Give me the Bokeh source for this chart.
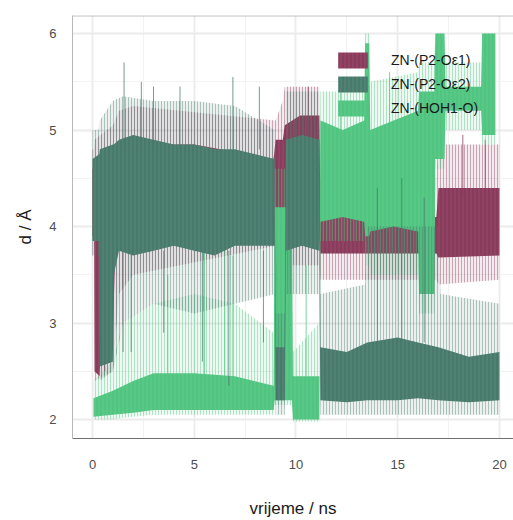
from bokeh.plotting import figure
from bokeh.models import Range1d, SingleIntervalTicker, Legend, LegendItem, Span
from bokeh.embed import file_html
from bokeh.resources import INLINE

# ---------------- data ----------------
series_labels = ["ZN-(P2-Oε1)", "ZN-(P2-Oε2)", "ZN-(HOH1-O)"]
series_colors = ["#8a3a5b", "#487a6b", "#50c580"]

# ZN-(P2-Oe1): dense band (core) and spike envelope (env)
e1_core_t = [0.0, 0.08, 0.1, 0.35, 0.4, 1.0, 1.1, 1.3, 5.0, 8.9, 9.0, 9.35, 9.45, 10.2, 11.15, 11.2, 13.5, 16.9, 17.0, 20.0]
e1_core_lo = [3.9, 3.9, 2.5, 2.45, 2.7, 2.9, 3.6, 3.8, 3.8, 3.85, 4.0, 4.0, 3.85, 3.85, 3.85, 3.72, 3.72, 3.72, 3.68, 3.7]
e1_core_hi = [4.6, 4.6, 4.6, 4.6, 4.7, 4.8, 4.8, 4.85, 4.85, 4.7, 4.9, 4.9, 5.05, 5.15, 5.15, 4.15, 4.12, 4.1, 4.4, 4.4]
e1_env_t = [0.0, 0.08, 0.1, 1.0, 1.3, 2.0, 9.0, 9.35, 9.45, 11.15, 11.2, 16.9, 17.0, 20.0]
e1_env_lo = [3.7, 3.7, 2.4, 2.5, 3.3, 3.5, 3.8, 3.8, 3.6, 3.6, 3.45, 3.45, 3.4, 3.45]
e1_env_hi = [4.8, 4.8, 4.9, 5.05, 5.2, 5.25, 5.1, 5.3, 5.45, 5.45, 4.5, 4.5, 4.85, 4.85]
e1_spk_t = [1.5, 0.6, 10.6, 18.2, 19.3]
e1_spk_lo = [2.7, 2.5, 4.9, 4.3, 4.3]
e1_spk_hi = [3.8, 3.0, 5.45, 4.95, 4.9]

# ZN-(P2-Oe2)
e2_core_t = [0.0, 0.33, 0.36, 1.0, 1.05, 1.3, 2.0, 3.0, 4.0, 5.0, 6.0, 7.0, 8.0, 8.95, 9.0, 9.45, 9.5, 10.3, 11.15, 11.2, 12.5, 13.5, 15.0, 16.0, 17.0, 18.5, 20.0]
e2_core_lo = [3.85, 3.85, 2.55, 2.6, 3.5, 3.75, 3.7, 3.75, 3.8, 3.75, 3.7, 3.8, 3.8, 3.8, 2.2, 2.2, 3.75, 3.8, 3.75, 2.2, 2.18, 2.2, 2.2, 2.22, 2.2, 2.18, 2.2]
e2_core_hi = [4.7, 4.75, 4.8, 4.85, 4.85, 4.9, 4.95, 4.9, 4.85, 4.85, 4.8, 4.8, 4.75, 4.7, 2.75, 2.75, 4.9, 4.95, 4.9, 2.75, 2.7, 2.8, 2.85, 2.8, 2.75, 2.65, 2.7]
e2_env_t = [0.0, 0.3, 0.35, 1.0, 1.5, 3.0, 5.0, 7.0, 8.95, 9.0, 9.45, 9.5, 11.15, 11.2, 13.4, 13.5, 17.0, 17.1, 20.0]
e2_env_lo = [3.7, 3.7, 2.4, 2.5, 3.0, 3.2, 3.1, 3.2, 3.3, 2.05, 2.05, 3.3, 3.3, 2.05, 2.05, 2.05, 2.05, 2.05, 2.05]
e2_env_hi = [5.0, 5.0, 5.1, 5.3, 5.35, 5.3, 5.3, 5.25, 5.0, 3.1, 3.1, 5.4, 5.4, 3.3, 3.4, 4.0, 4.0, 3.3, 3.2]
e2_spk_t = [1.55, 2.4, 3.0, 4.3, 6.9, 8.2, 1.9, 3.5, 5.4, 6.7, 8.4, 14.0, 15.2, 16.3]
e2_spk_lo = [4.8, 4.8, 4.8, 4.8, 4.8, 4.8, 2.7, 2.9, 2.6, 2.35, 2.8, 2.8, 2.8, 2.8]
e2_spk_hi = [5.7, 5.5, 5.45, 5.45, 5.55, 5.45, 3.75, 3.75, 3.75, 3.75, 3.75, 4.4, 4.5, 4.3]

# ZN-(HOH1-O)
w_core_t = [0.05, 1.0, 2.0, 3.0, 5.0, 7.0, 8.9, 8.95, 9.8, 9.85, 11.15, 11.2, 12.3, 13.35, 13.4, 13.6, 13.65, 14.8, 16.0, 16.05, 16.8, 16.85, 17.3, 17.35, 19.1, 19.15, 19.8]
w_core_lo = [2.03, 2.05, 2.07, 2.1, 2.1, 2.1, 2.1, 2.2, 2.2, 2.0, 2.0, 4.05, 4.1, 4.05, 3.9, 3.9, 3.95, 4.0, 3.95, 3.3, 3.3, 4.7, 4.7, 5.2, 5.2, 4.95, 4.95]
w_core_hi = [2.22, 2.3, 2.4, 2.48, 2.48, 2.45, 2.35, 4.2, 4.2, 2.45, 2.45, 5.1, 5.0, 5.1, 5.9, 5.9, 5.0, 5.1, 5.2, 5.4, 5.4, 6.0, 6.0, 5.45, 5.45, 6.0, 6.0]
w_env_t = [0.05, 1.0, 1.5, 3.0, 5.0, 7.0, 8.9, 8.95, 9.8, 9.85, 11.15, 11.2, 13.35, 13.4, 13.6, 13.65, 16.0, 16.05, 16.8, 16.85, 17.3, 17.35, 19.1, 19.15, 19.8]
w_env_lo = [2.0, 2.0, 2.02, 2.05, 2.05, 2.05, 2.05, 2.15, 2.15, 1.98, 1.98, 3.85, 3.85, 3.6, 3.6, 3.5, 3.5, 3.1, 3.1, 4.6, 4.6, 5.0, 5.0, 4.85, 4.85]
w_env_hi = [2.4, 2.6, 3.0, 3.2, 3.3, 3.2, 2.9, 4.6, 4.6, 2.7, 3.0, 5.4, 5.4, 6.0, 6.0, 5.5, 5.6, 5.7, 5.7, 6.0, 6.0, 5.7, 5.7, 6.0, 6.0]
w_spk_t = [3.7, 5.5, 6.5, 6.9, 10.5, 12.2, 14.6]
w_spk_lo = [2.4, 2.4, 2.4, 2.4, 2.4, 5.0, 5.0]
w_spk_hi = [3.5, 3.8, 4.6, 3.7, 3.6, 5.5, 5.6]

x_ticks_interval = 5
y_ticks_interval = 1

# ---------------- figure ----------------
p = figure(width=513, height=520, output_backend="svg", toolbar_location=None,
           x_range=Range1d(-0.983, 20.69), y_range=Range1d(1.804, 6.187),
           min_border_left=72, min_border_top=15, min_border_right=0, min_border_bottom=82)
p.outline_line_color = None
p.background_fill_color = "white"

p.xaxis.ticker = SingleIntervalTicker(interval=x_ticks_interval, num_minor_ticks=2)
p.yaxis.ticker = SingleIntervalTicker(interval=y_ticks_interval, num_minor_ticks=2)
p.xgrid.ticker = p.xaxis.ticker
p.ygrid.ticker = p.yaxis.ticker
for g in (p.xgrid, p.ygrid):
    g.grid_line_color = "#ebebeb"
    g.grid_line_width = 1.8
    g.minor_grid_line_color = "#f2f2f2"
    g.minor_grid_line_width = 1.0

for ax in (p.xaxis, p.yaxis):
    ax.major_tick_line_color = None
    ax.minor_tick_line_color = None
    ax.major_label_text_font = "Liberation Sans"
    ax.major_label_text_font_size = "13px"
    ax.major_label_text_color = "#4d4d4d"
    ax.axis_label_text_font = "Liberation Sans"
    ax.axis_label_text_font_size = "17px"
    ax.axis_label_text_font_style = "normal"
    ax.axis_label_text_color = "#1a1a1a"

p.xaxis.axis_label = "vrijeme / ns"
p.yaxis.axis_label = "d / Å"
p.xaxis.axis_line_color = "#707070"
p.yaxis.axis_line_color = "#b8b8b8"
p.xaxis.major_label_standoff = 15
p.xaxis.axis_label_standoff = 27
p.yaxis.major_label_standoff = 10
p.yaxis.axis_label_standoff = 11

p.add_layout(Span(location=6.183, dimension="width", line_color="#aaaaaa", line_width=1))

ENV = dict(fill_alpha=0.1, hatch_pattern="vertical_line", hatch_alpha=0.4,
           hatch_scale=3, hatch_weight=1)
CORE = dict(fill_alpha=1.0, hatch_pattern="vertical_line", hatch_color="white",
            hatch_alpha=0.1, hatch_scale=4, hatch_weight=1)
SPK_ALPHA = 0.75
c1, c2, c3 = series_colors

# magenta first, then water, then teal on top
p.varea(x=e1_env_t, y1=e1_env_lo, y2=e1_env_hi, fill_color=c1, hatch_color=c1, **ENV)
r1 = p.varea(x=e1_core_t, y1=e1_core_lo, y2=e1_core_hi, fill_color=c1, **CORE)
p.segment(x0=e1_spk_t, y0=e1_spk_lo, x1=e1_spk_t, y1=e1_spk_hi, line_color=c1, line_alpha=SPK_ALPHA, line_width=1)

p.varea(x=w_env_t, y1=w_env_lo, y2=w_env_hi, fill_color=c3, hatch_color=c3, **ENV)
r3 = p.varea(x=w_core_t, y1=w_core_lo, y2=w_core_hi, fill_color=c3, **CORE)
p.segment(x0=w_spk_t, y0=w_spk_lo, x1=w_spk_t, y1=w_spk_hi, line_color=c3, line_alpha=SPK_ALPHA, line_width=1)

p.varea(x=e2_env_t, y1=e2_env_lo, y2=e2_env_hi, fill_color=c2, hatch_color=c2, **ENV)
r2 = p.varea(x=e2_core_t, y1=e2_core_lo, y2=e2_core_hi, fill_color=c2, **CORE)
p.segment(x0=e2_spk_t, y0=e2_spk_lo, x1=e2_spk_t, y1=e2_spk_hi, line_color=c2, line_alpha=SPK_ALPHA, line_width=1)

legend = Legend(items=[LegendItem(label=series_labels[0], renderers=[r1]),
                       LegendItem(label=series_labels[1], renderers=[r2]),
                       LegendItem(label=series_labels[2], renderers=[r3])],
                location=(262, 320), glyph_width=37, glyph_height=20, label_height=20,
                spacing=4, padding=0, margin=0, label_standoff=20,
                label_text_font="Liberation Sans", label_text_font_size="14px",
                label_text_color="#1a1a1a", border_line_color=None, background_fill_alpha=0)
p.add_layout(legend)

open("out.html", "w").write(file_html(p, INLINE))
